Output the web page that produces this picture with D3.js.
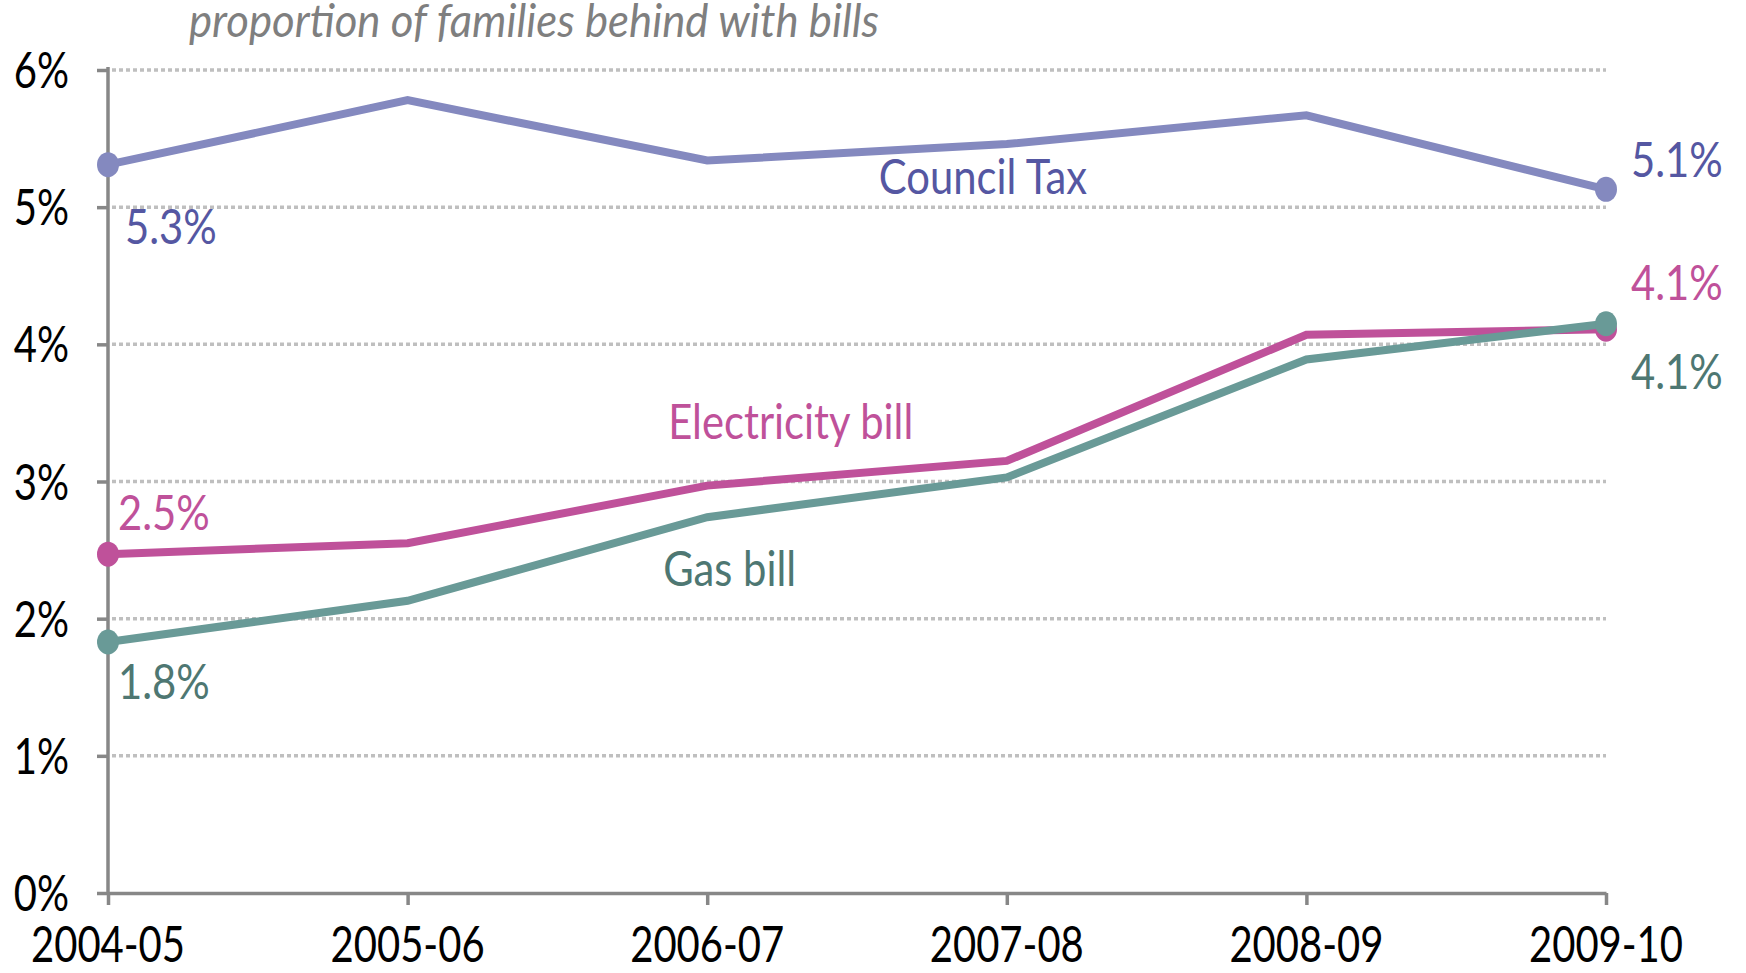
<!DOCTYPE html>
<html>
<head>
<meta charset="utf-8">
<script src="https://cdn.jsdelivr.net/npm/d3@7"></script>
<style>
  html, body { margin: 0; padding: 0; background: #fff; }
  svg { display: block; }
  text { font-family: Lato, "Open Sans", "Liberation Sans", sans-serif; }
</style>
</head>
<body>
<svg id="chart" width="1746" height="973"></svg>
<script>
const years = ["2004-05", "2005-06", "2006-07", "2007-08", "2008-09", "2009-10"];
const councilTax = [5.31, 5.78, 5.34, 5.46, 5.67, 5.13];
const electricity = [2.47, 2.55, 2.97, 3.15, 4.07, 4.11];
const gas = [1.83, 2.13, 2.74, 3.03, 3.89, 4.15];
const yTicks = [0, 1, 2, 3, 4, 5, 6];
const title = "proportion of families behind with bills";

const series = [
  { name: "Council Tax", values: councilTax, line: "#8489BF", text: "#5557A2",
    nameAt: 3, nameDx: -128, nameDy: 50,
    startLabel: "5.3%", startDx: 17, startDy: 79,
    endLabel: "5.1%", endDx: 25, endDy: -12 },
  { name: "Electricity bill", values: electricity, line: "#BF519A", text: "#BF519A",
    nameAt: 2, nameDx: -39, nameDy: -47,
    startLabel: "2.5%", startDx: 10, startDy: -24,
    endLabel: "4.1%", endDx: 25, endDy: -29 },
  { name: "Gas bill", values: gas, line: "#699A97", text: "#4E7772",
    nameAt: 2, nameDx: -44, nameDy: 69,
    startLabel: "1.8%", startDx: 10, startDy: 57,
    endLabel: "4.1%", endDx: 25, endDy: 65 }
];

const SX_AXIS = 0.8, SX_LABEL = 0.87, SX_TITLE = 0.93; // horizontal squeeze to mimic the narrow face
const svg = d3.select("#chart");
const x = d3.scalePoint().domain(years).range([108, 1606]);
const y = d3.scaleLinear().domain([0, 6]).range([893, 70]);

function addText(parent, tx, ty, str, size, fill, sx, anchor, extra) {
  const g = parent.append("g").attr("transform", `translate(${tx},${ty})`);
  const t = g.append("text").attr("transform", `scale(${sx},1)`)
    .attr("font-size", size).attr("fill", fill)
    .attr("text-anchor", anchor || "start").text(str);
  if (extra) extra(t);
  return t;
}

// gridlines
svg.append("g").selectAll("line").data(yTicks.filter(d => d > 0)).join("line")
  .attr("x1", 112).attr("x2", 1606)
  .attr("y1", d => y(d)).attr("y2", d => y(d))
  .attr("stroke", "#BFBFBF").attr("stroke-width", 3.5)
  .attr("stroke-dasharray", "4,3");

// y axis (ticks + labels)
const yAxis = svg.append("g").attr("transform", "translate(108,0)")
  .call(d3.axisLeft(y).tickValues(yTicks).tickFormat("").tickSize(11));
yAxis.select(".domain").remove();
yAxis.selectAll(".tick line").attr("stroke", "#878787").attr("stroke-width", 3.5);
yTicks.forEach(v => addText(svg, 69, y(v) + 18, v + "%", 50, "#000", SX_AXIS, "end"));
svg.append("line").attr("x1", 108).attr("x2", 108).attr("y1", 67).attr("y2", 893)
  .attr("stroke", "#878787").attr("stroke-width", 3.5);

// x axis
const xAxis = svg.append("g").attr("transform", "translate(0,893)")
  .call(d3.axisBottom(x).tickSize(12).tickFormat("").tickSizeOuter(0));
xAxis.select(".domain").attr("stroke", "#878787").attr("stroke-width", 3.5);
xAxis.selectAll(".tick line").attr("stroke", "#878787").attr("stroke-width", 3.5);
years.forEach(yr => addText(svg, x(yr), 962, yr, 50, "#000", SX_AXIS, "middle"));

// title
addText(svg, 189, 37, title, 47, "#7F7F7F", SX_TITLE, "start", t => t.attr("font-style", "italic"));

const line = d3.line().x((d, i) => x(years[i])).y(d => y(d));

series.forEach(s => {
  svg.append("path").datum(s.values).attr("d", line)
    .attr("fill", "none").attr("stroke", s.line).attr("stroke-width", 8)
    .attr("stroke-linejoin", "miter");
  [0, s.values.length - 1].forEach(i => {
    svg.append("ellipse")
      .attr("cx", x(years[i])).attr("cy", y(s.values[i]))
      .attr("rx", 11).attr("ry", 12.5).attr("fill", s.line);
  });
});

// labels
series.forEach(s => {
  const n = s.values.length - 1;
  addText(svg, x(years[0]) + s.startDx, y(s.values[0]) + s.startDy, s.startLabel, 48, s.text, SX_LABEL);
  addText(svg, x(years[n]) + s.endDx, y(s.values[n]) + s.endDy, s.endLabel, 48, s.text, SX_LABEL);
  const k = s.nameAt;
  addText(svg, x(years[k]) + s.nameDx, y(s.values[k]) + s.nameDy, s.name, 48, s.text, SX_LABEL);
});
</script>
</body>
</html>
